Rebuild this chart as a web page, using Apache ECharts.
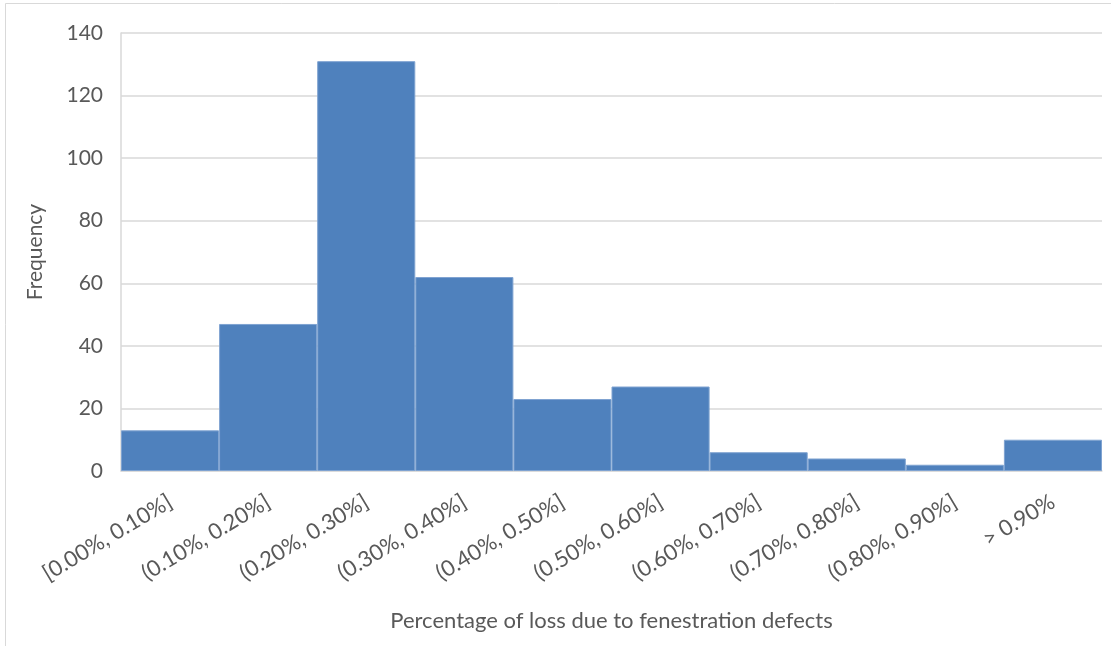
<!DOCTYPE html>
<html>
<head>
<meta charset="utf-8">
<script src="https://cdn.jsdelivr.net/npm/echarts@6/dist/echarts.min.js"></script>
<style>
  html, body { margin: 0; padding: 0; background: #ffffff; }
  #chart { width: 1111px; height: 646px; }
</style>
</head>
<body>
<div id="chart"></div>
<script>
// Histogram bins of loss percentage and their counts
const categories = ['[0.00%, 0.10%]', '(0.10%, 0.20%]', '(0.20%, 0.30%]', '(0.30%, 0.40%]', '(0.40%, 0.50%]',
  '(0.50%, 0.60%]', '(0.60%, 0.70%]', '(0.70%, 0.80%]', '(0.80%, 0.90%]', '> 0.90%'];
const frequency = [13, 47, 131, 62, 23, 27, 6, 4, 2, 10];
const xTitle = 'Percentage of loss due to fenestration defects';
const yTitle = 'Frequency';

const FONT = 'Lato, "Open Sans", sans-serif';
const TEXT = '#595959';
const LINE = '#d9d9d9';

const chart = echarts.init(document.getElementById('chart'), null, { renderer: 'canvas' });
chart.setOption({
  animation: false,
  backgroundColor: '#ffffff',
  graphic: [
    { type: 'line', shape: { x1: 5.5, y1: 3.5, x2: 5.5, y2: 646 }, style: { stroke: LINE, lineWidth: 1 } },
    { type: 'line', shape: { x1: 5.5, y1: 3.5, x2: 1111, y2: 3.5 }, style: { stroke: LINE, lineWidth: 1 } }
  ],
  grid: { left: 121, right: 9, top: 33, bottom: 175, containLabel: false },
  xAxis: {
    type: 'category',
    data: categories,
    name: xTitle,
    nameLocation: 'middle',
    nameGap: 139,
    nameTextStyle: { fontFamily: FONT, fontSize: 22, color: TEXT },
    axisLine: { show: true, lineStyle: { color: LINE, width: 1.5 } },
    axisTick: { show: false },
    axisLabel: { interval: 0, rotate: 31, margin: 29, fontFamily: FONT, fontSize: 22, color: TEXT }
  },
  yAxis: {
    type: 'value',
    min: 0,
    max: 140,
    interval: 20,
    name: yTitle,
    nameLocation: 'middle',
    nameGap: 75,
    nameTextStyle: { fontFamily: FONT, fontSize: 21, color: TEXT },
    axisLine: { show: true, lineStyle: { color: LINE, width: 1.5 } },
    axisTick: { show: false },
    axisLabel: { margin: 18, fontFamily: FONT, fontSize: 21, color: TEXT },
    splitLine: { show: true, lineStyle: { color: LINE, width: 1.5 } }
  },
  series: [{
    type: 'bar',
    data: frequency,
    barCategoryGap: 0,
    itemStyle: { color: '#4f81bd', borderColor: '#7fa3d1', borderWidth: 1 }
  }]
});
</script>
</body>
</html>
